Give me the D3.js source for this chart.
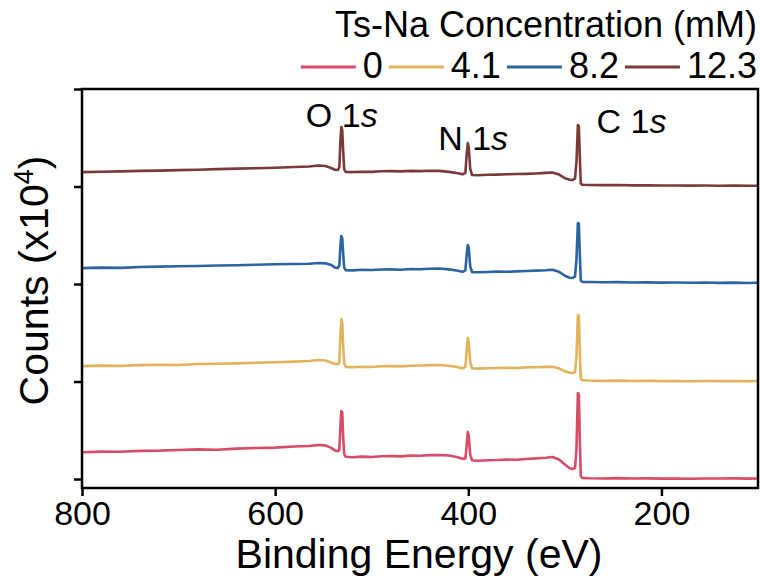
<!DOCTYPE html>
<html>
<head>
<meta charset="utf-8">
<script src="https://cdn.jsdelivr.net/npm/d3@7"></script>
<style>
  html, body { margin: 0; padding: 0; background: #ffffff; }
  svg { display: block; font-family: "Liberation Sans", Arial, Helvetica, sans-serif; }
</style>
</head>
<body>
<svg id="chart" width="760" height="579"></svg>
<script>
// XPS survey spectra (binding energy in eV, counts x10^4, traces offset vertically)
const energy = [
  800, 780, 760, 740, 720, 700, 680, 660, 640, 620, 600, 580,
  565, 555, 548, 542, 538, 535, 533.5, 532.5, 531.5, 530.5, 529.5, 528.5, 527,
  520, 510, 500, 490, 480, 470, 460, 450, 440, 430, 420,
  412, 406, 403, 401.5, 400.5, 399.5, 398, 396,
  390, 380, 370, 360, 350, 340, 330, 320, 313, 306,
  300, 295, 292, 289.5, 288, 286.5, 285.5, 284.5, 283.5, 282,
  275, 260, 245, 230, 215, 200, 185, 170, 155, 140, 125, 110, 100
];

const counts0 = [
  0.275, 0.281, 0.279, 0.289, 0.291, 0.298, 0.304, 0.301, 0.312, 0.318, 0.322, 0.333,
  0.338, 0.349, 0.345, 0.320, 0.292, 0.285, 0.300, 0.520, 0.697, 0.680, 0.420, 0.260, 0.228,
  0.224, 0.230, 0.226, 0.233, 0.236, 0.232, 0.240, 0.238, 0.245, 0.246, 0.241,
  0.225, 0.207, 0.212, 0.360, 0.482, 0.440, 0.250, 0.192,
  0.188, 0.193, 0.195, 0.200, 0.197, 0.206, 0.212, 0.218, 0.226, 0.200,
  0.150, 0.110, 0.103, 0.112, 0.300, 0.882, 0.865, 0.400, 0.030, 0.012,
  0.008, 0.006, 0.009, 0.005, 0.007, 0.004, 0.006, 0.003, 0.006, 0.005, 0.007, 0.004, 0.006
];

const counts41 = [
  1.158, 1.163, 1.160, 1.168, 1.172, 1.170, 1.179, 1.183, 1.186, 1.192, 1.197, 1.204,
  1.210, 1.221, 1.215, 1.195, 1.180, 1.178, 1.200, 1.450, 1.641, 1.600, 1.350, 1.190, 1.150,
  1.147, 1.152, 1.149, 1.156, 1.158, 1.155, 1.162, 1.164, 1.168, 1.170, 1.162,
  1.148, 1.135, 1.150, 1.340, 1.446, 1.400, 1.200, 1.136,
  1.132, 1.136, 1.139, 1.141, 1.138, 1.145, 1.146, 1.150, 1.152, 1.135,
  1.105, 1.090, 1.087, 1.095, 1.250, 1.682, 1.670, 1.300, 1.030, 1.013,
  1.010, 1.007, 1.009, 1.005, 1.008, 1.004, 1.006, 1.003, 1.005, 1.004, 1.006, 1.003, 1.005
];

const counts82 = [
  2.163, 2.168, 2.166, 2.174, 2.178, 2.182, 2.185, 2.190, 2.193, 2.198, 2.202, 2.206,
  2.208, 2.216, 2.212, 2.196, 2.168, 2.165, 2.190, 2.380, 2.492, 2.470, 2.300, 2.170, 2.142,
  2.140, 2.146, 2.143, 2.149, 2.150, 2.147, 2.154, 2.152, 2.157, 2.159, 2.150,
  2.138, 2.125, 2.140, 2.320, 2.400, 2.370, 2.180, 2.122,
  2.120, 2.124, 2.127, 2.126, 2.130, 2.133, 2.137, 2.141, 2.146, 2.125,
  2.085, 2.065, 2.062, 2.075, 2.250, 2.626, 2.620, 2.300, 2.035, 2.022,
  2.020, 2.018, 2.019, 2.016, 2.017, 2.014, 2.015, 2.013, 2.015, 2.012, 2.014, 2.011, 2.013
];

const counts123 = [
  3.148, 3.152, 3.155, 3.160, 3.163, 3.168, 3.172, 3.178, 3.183, 3.188, 3.193, 3.200,
  3.205, 3.216, 3.210, 3.190, 3.172, 3.170, 3.200, 3.450, 3.610, 3.580, 3.350, 3.175, 3.150,
  3.148, 3.152, 3.150, 3.156, 3.158, 3.155, 3.160, 3.158, 3.162, 3.160, 3.150,
  3.138, 3.125, 3.140, 3.350, 3.446, 3.400, 3.180, 3.118,
  3.116, 3.120, 3.122, 3.125, 3.128, 3.130, 3.134, 3.140, 3.144, 3.122,
  3.085, 3.070, 3.067, 3.080, 3.250, 3.631, 3.620, 3.300, 3.030, 3.018,
  3.016, 3.014, 3.015, 3.012, 3.013, 3.010, 3.011, 3.009, 3.010, 3.008, 3.009, 3.007, 3.008
];

const concentrations = ["0", "4.1", "8.2", "12.3"];
const seriesCounts = [counts0, counts41, counts82, counts123];
const lineColors = ["#d74c67", "#e2b35c", "#2b64a0", "#7a3a3a"];

const xTicks = [800, 600, 400, 200];
const yTicks = [0, 1, 2, 3, 4];

// Core-level annotations: element, anchor energy, anchor height
const peakNames = ["O", "N", "C"];
const peakLabelEnergy = [531, 395, 231];
const peakLabelCounts = [3.61, 3.37, 3.55];

// ---- layout ----
const plot = { left: 82, right: 758, top: 89, bottom: 488 };
const svg = d3.select("#chart");

const x = d3.scaleLinear().domain([800, 100]).range([plot.left, plot.right]);
const y = d3.scaleLinear().domain([-0.092, 4]).range([plot.bottom, plot.top]);

svg.append("defs").append("clipPath").attr("id", "plotClip")
  .append("rect")
  .attr("x", plot.left).attr("y", plot.top)
  .attr("width", plot.right - plot.left).attr("height", plot.bottom - plot.top);

// spectra
const line = d3.line()
  .x((d, i) => x(energy[i]))
  .y(d => y(d));

svg.append("g").attr("clip-path", "url(#plotClip)")
  .selectAll("path")
  .data(seriesCounts)
  .join("path")
  .attr("d", d => line(d))
  .attr("fill", "none")
  .attr("stroke", (d, i) => lineColors[i])
  .attr("stroke-width", 2.6)
  .attr("stroke-linejoin", "round")
  .attr("stroke-linecap", "round");

// axes
const xAxis = svg.append("g")
  .attr("transform", `translate(0,${plot.bottom})`)
  .call(d3.axisBottom(x).tickValues(xTicks).tickSize(8).tickSizeOuter(0).tickFormat(d3.format("d")));
xAxis.selectAll("text")
  .attr("dy", null).attr("y", 37)
  .attr("font-size", 34).attr("fill", "#000")
  .attr("font-family", "'Liberation Sans', Arial, Helvetica, sans-serif");

const yAxis = svg.append("g")
  .attr("transform", `translate(${plot.left},0)`)
  .call(d3.axisLeft(y).tickValues(yTicks).tickSize(8).tickSizeOuter(0).tickFormat(""));

[xAxis, yAxis].forEach(g => {
  g.select(".domain").remove();
  g.selectAll(".tick line").attr("stroke", "#000").attr("stroke-width", 2.5);
});

// frame
svg.append("rect")
  .attr("x", plot.left).attr("y", plot.top)
  .attr("width", plot.right - plot.left).attr("height", plot.bottom - plot.top)
  .attr("fill", "none").attr("stroke", "#000").attr("stroke-width", 2.5);

// axis titles
svg.append("text")
  .attr("x", (plot.left + plot.right) / 2 - 1).attr("y", 568)
  .attr("text-anchor", "middle").attr("font-size", 41).attr("fill", "#000")
  .text("Binding Energy (eV)");

const yLabel = svg.append("text")
  .attr("transform", `translate(48,${(plot.top + plot.bottom) / 2 - 8}) rotate(-90)`)
  .attr("text-anchor", "middle").attr("font-size", 41).attr("fill", "#000");
yLabel.append("tspan").text("Counts (x10");
yLabel.append("tspan").attr("font-size", 27).attr("dy", -15).text("4");
yLabel.append("tspan").attr("dy", 15).text(")");

// peak annotations
peakNames.forEach((name, i) => {
  const t = svg.append("text")
    .attr("x", x(peakLabelEnergy[i])).attr("y", y(peakLabelCounts[i]))
    .attr("text-anchor", "middle").attr("font-size", 34).attr("fill", "#000");
  t.append("tspan").text(name + " 1");
  t.append("tspan").attr("font-style", "italic").text("s");
});

// legend
const legend = svg.append("g");
legend.append("text")
  .attr("x", 757).attr("y", 37)
  .attr("text-anchor", "end").attr("font-size", 36).attr("fill", "#000")
  .text("Ts-Na Concentration (mM)");

const handleLen = 55, textPad = 7, colGap = 6, rowY = 67, rowBase = 78;
const items = legend.selectAll("g.item").data(concentrations).join("g").attr("class", "item");
items.append("line")
  .attr("x1", 0).attr("x2", handleLen).attr("y1", rowY).attr("y2", rowY)
  .attr("stroke", (d, i) => lineColors[i]).attr("stroke-width", 3.2);
items.append("text")
  .attr("x", handleLen + textPad).attr("y", rowBase)
  .attr("font-size", 36).attr("fill", "#000")
  .text(d => d);

const widths = [];
items.each(function () {
  widths.push(handleLen + textPad + d3.select(this).select("text").node().getComputedTextLength());
});
const total = d3.sum(widths) + colGap * (widths.length - 1);
let cursor = 757 - total;
items.each(function (d, i) {
  d3.select(this).attr("transform", `translate(${cursor},0)`);
  cursor += widths[i] + colGap;
});
</script>
</body>
</html>
